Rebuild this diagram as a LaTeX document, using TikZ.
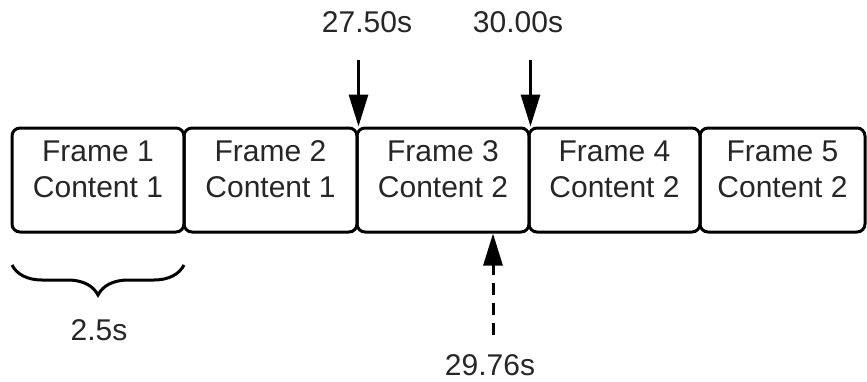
\documentclass[tikz,border=0pt]{standalone}
\usepackage{fontspec}
\setmainfont{Liberation Sans}
\usetikzlibrary{arrows.meta,decorations.pathreplacing}
\begin{document}
\begin{tikzpicture}[x=0.5pt,y=-0.5pt,
  every node/.style={font=\fontsize{15}{18.3}\selectfont, text=black!85},
  framebox/.style={draw, line width=1.5pt, rounded corners=4pt, minimum height=52pt, inner sep=0pt, align=center, text depth=11pt},
  lbl/.style={anchor=base, inner sep=0pt},
  arr/.style={line width=1.5pt, -{Triangle[length=16pt,width=9.5pt]}},
  brc/.style={line width=1.5pt, decorate, decoration={brace, mirror, amplitude=15pt}}
]
\useasboundingbox (0,0) rectangle (867,381);
\node[framebox, minimum width=86pt]   (f1) at (98,180)    {Frame 1\\Content 1};
\node[framebox, minimum width=86.5pt] (f2) at (270.5,180) {Frame 2\\Content 1};
\node[framebox, minimum width=86pt]   (f3) at (443,180)   {Frame 3\\Content 2};
\node[framebox, minimum width=85.5pt] (f4) at (614.5,180) {Frame 4\\Content 2};
\node[framebox, minimum width=82.5pt] (f5) at (782.5,180) {Frame 5\\Content 2};

\node[lbl] (t1) at (367,32) {27.50s};
\node[lbl] (t2) at (518,32) {30.00s};
\node[lbl] (t3) at (490,375) {29.76s};
\node[lbl] (t4) at (99,340) {2.5s};

\coordinate (s1) at (f2.north east |- 0,60);
\coordinate (s2) at (f3.north east |- 0,60);
\coordinate (s3) at (493,335);
\coordinate (b1) at (12,265);
\coordinate (b2) at (184,265);

\draw[arr] (s1) -- (f2.north east);
\draw[arr] (s2) -- (f3.north east);
\draw[arr, dash pattern=on 6pt off 4pt] (s3) -- (s3 |- f3.south);
\draw[brc] (b1) -- (b2);
\end{tikzpicture}
\end{document}
